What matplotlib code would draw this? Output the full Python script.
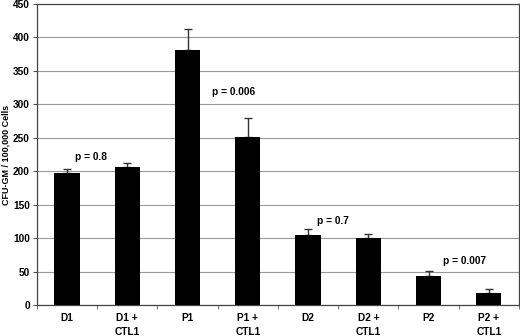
import matplotlib.pyplot as plt
import numpy as np

# Data
groups = ['D1', 'D1 +\nCTL1', 'P1', 'P1 +\nCTL1', 'D2', 'D2 +\nCTL1', 'P2', 'P2 +\nCTL1']
means = [197, 207, 381, 251, 105, 100, 44, 18]
errors = [6, 5, 31, 29, 9, 6, 7, 6]
p_labels = ['p = 0.8', 'p = 0.006', 'p = 0.7', 'p = 0.007']
p_x = [0.4, 2.77, 4.41, 6.59]
p_y = [222, 318, 125, 66]

plt.rcParams['font.family'] = ['Liberation Sans', 'DejaVu Sans']
plt.rcParams['font.weight'] = 'bold'

fig, ax = plt.subplots(figsize=(5.2, 3.36), dpi=100)
fig.subplots_adjust(left=0.071, right=0.998, top=0.988, bottom=0.092)

x = np.arange(len(groups))
ax.bar(x, means, width=0.42, color='black', zorder=3)
ax.errorbar(x, means, yerr=[np.zeros(len(errors)), errors], fmt='none',
            ecolor='#333333', elinewidth=1, capsize=3, capthick=1, zorder=2)

for label, px, py in zip(p_labels, p_x, p_y):
    ax.text(px, py, label, ha='center', va='center', fontsize=7.3, fontweight='bold')

ax.set_xlim(-0.5, len(groups) - 0.5)
ax.set_ylim(0, 450)
ax.set_yticks(range(0, 451, 50))
ax.yaxis.grid(True, color='#999999', linewidth=0.8, zorder=0)
ax.set_axisbelow(True)

# category labels centred, ticks on the boundaries
ax.set_xticks(x)
ax.set_xticklabels(groups, fontsize=7.3, fontweight='bold', linespacing=1.4)
ax.tick_params(axis='x', which='major', length=0, pad=6)
ax.set_xticks(np.arange(-0.5, len(groups)), minor=True)
ax.tick_params(axis='x', which='minor', length=3, color='#555555')
ax.tick_params(axis='y', labelsize=7.3, length=3, color='#555555', pad=2)
for lab in ax.get_yticklabels():
    lab.set_fontweight('bold')

ax.set_ylabel('CFU-GM / 100,000 Cells', fontsize=6.5, fontweight='bold', labelpad=2)

for side in ax.spines.values():
    side.set_color('#444444')
    side.set_linewidth(0.9)

fig.savefig('out.png', dpi=100)
